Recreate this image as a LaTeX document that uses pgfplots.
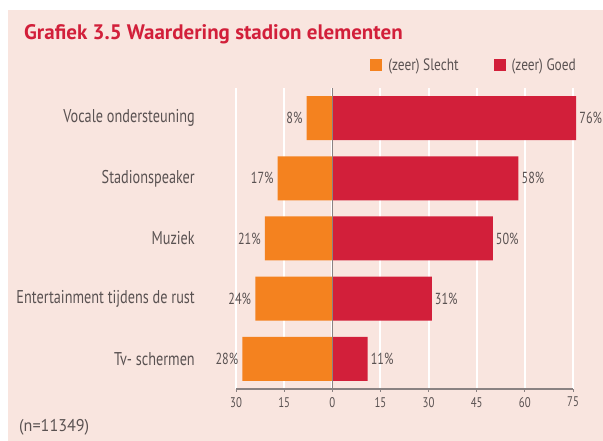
\documentclass[border=0pt]{standalone}
\usepackage{fontspec}
\setmainfont{PT Sans}
\newfontfamily\cond{PT Sans}[FakeStretch=0.77]
\newfontfamily\condv{PT Sans}[FakeStretch=0.76]
\newfontfamily\condl{PT Sans}[FakeStretch=0.81]
\newfontfamily\condn{PT Sans}[FakeStretch=0.95]
\usepackage{pgfplots}
\pgfplotsset{compat=1.18}
\definecolor{bg}{HTML}{F9E5DF}
\definecolor{orb}{HTML}{F4821F}
\definecolor{rdb}{HTML}{D21F3A}
\definecolor{tx}{HTML}{5A5252}
\definecolor{axc}{HTML}{8A8282}
\begin{document}
\begin{tikzpicture}[x=1bp,y=1bp]
\useasboundingbox (0,0) rectangle (603,441);
\fill[white] (0,0) rectangle (603,441);
\fill[bg] (8,0) rectangle (603,431);
\node[anchor=base west, inner sep=0, text=rdb, font=\fontsize{21bp}{24bp}\selectfont\bfseries] at (24,401) {Grafiek 3.5 Waardering stadion elementen};
\node[anchor=base west, inner sep=0, text=tx, font=\condn\fontsize{17bp}{20bp}\selectfont] at (19,9) {(n=11349)};
\begin{axis}[
  at={(236bp,52bp)}, anchor=south west,
  scale only axis, width=337bp, height=301bp,
  xmin=-30, xmax=75, ymin=-0.5, ymax=4.5,
  clip=false,
  axis x line*=bottom, axis y line*=left,
  x axis line style={-, draw=axc, line width=1.5bp},
  y axis line style={draw=none},
  xtick={-30,-15,0,15,30,45,60,75},
  xticklabels={30,15,0,15,30,45,60,75},
  ytick={0,1,2,3,4},
  yticklabels={Tv- schermen,Entertainment tijdens de rust,Muziek,Stadionspeaker,Vocale ondersteuning},
  ytick style={draw=none},
  xtick style={draw=axc, line width=1bp},
  tick align=outside, major tick length=3bp,
  xmajorgrids, grid style={white, line width=2bp},
  xticklabel style={font=\cond\fontsize{14bp}{16bp}\selectfont, text=tx, inner sep=0pt},
  xticklabel shift=5bp,
  yticklabel style={font=\cond\fontsize{18.5bp}{20bp}\selectfont, text=tx, inner sep=0pt},
  yticklabel shift=38bp,
  legend columns=2,
  legend style={at={(1.009,1.076)}, anchor=east, draw=none, fill=none, inner sep=0pt,
    font=\condl\fontsize{16.5bp}{18bp}\selectfont, text=tx,
    /tikz/every even column/.append style={column sep=35bp},
    /tikz/every odd column/.append style={column sep=6bp},
    nodes={inner sep=0pt}},
  legend cell align=left,
  point meta=explicit,
  nodes near coords={\pgfmathprintnumber[assume math mode=true]{\pgfplotspointmeta}\%},
  every node near coord/.append style={font=\condv\fontsize{16bp}{18bp}\selectfont, text=tx, inner sep=0pt},
]
\addplot[xbar, bar width=44bp, bar shift=0pt, fill=orb, draw=none,
  every node near coord/.append style={anchor=east, xshift=-4bp},
  legend image code/.code={\fill[orb] (0bp,-6bp) rectangle (12bp,6bp);}]
  coordinates {(-8,4) [8] (-17,3) [17] (-21,2) [21] (-24,1) [24] (-28,0) [28]};
\addlegendentry{(zeer) Slecht}
\addplot[xbar, bar width=44bp, bar shift=0pt, fill=rdb, draw=none,
  every node near coord/.append style={anchor=west, xshift=3bp},
  legend image code/.code={\fill[rdb] (0bp,-6bp) rectangle (12bp,6bp);}]
  coordinates {(76,4) [76] (58,3) [58] (50,2) [50] (31,1) [31] (11,0) [11]};
\addlegendentry{(zeer) Goed}
\draw[axc, line width=1.5bp] (axis cs:0,-0.5) -- (axis cs:0,4.5);
\end{axis}
\end{tikzpicture}
\end{document}
